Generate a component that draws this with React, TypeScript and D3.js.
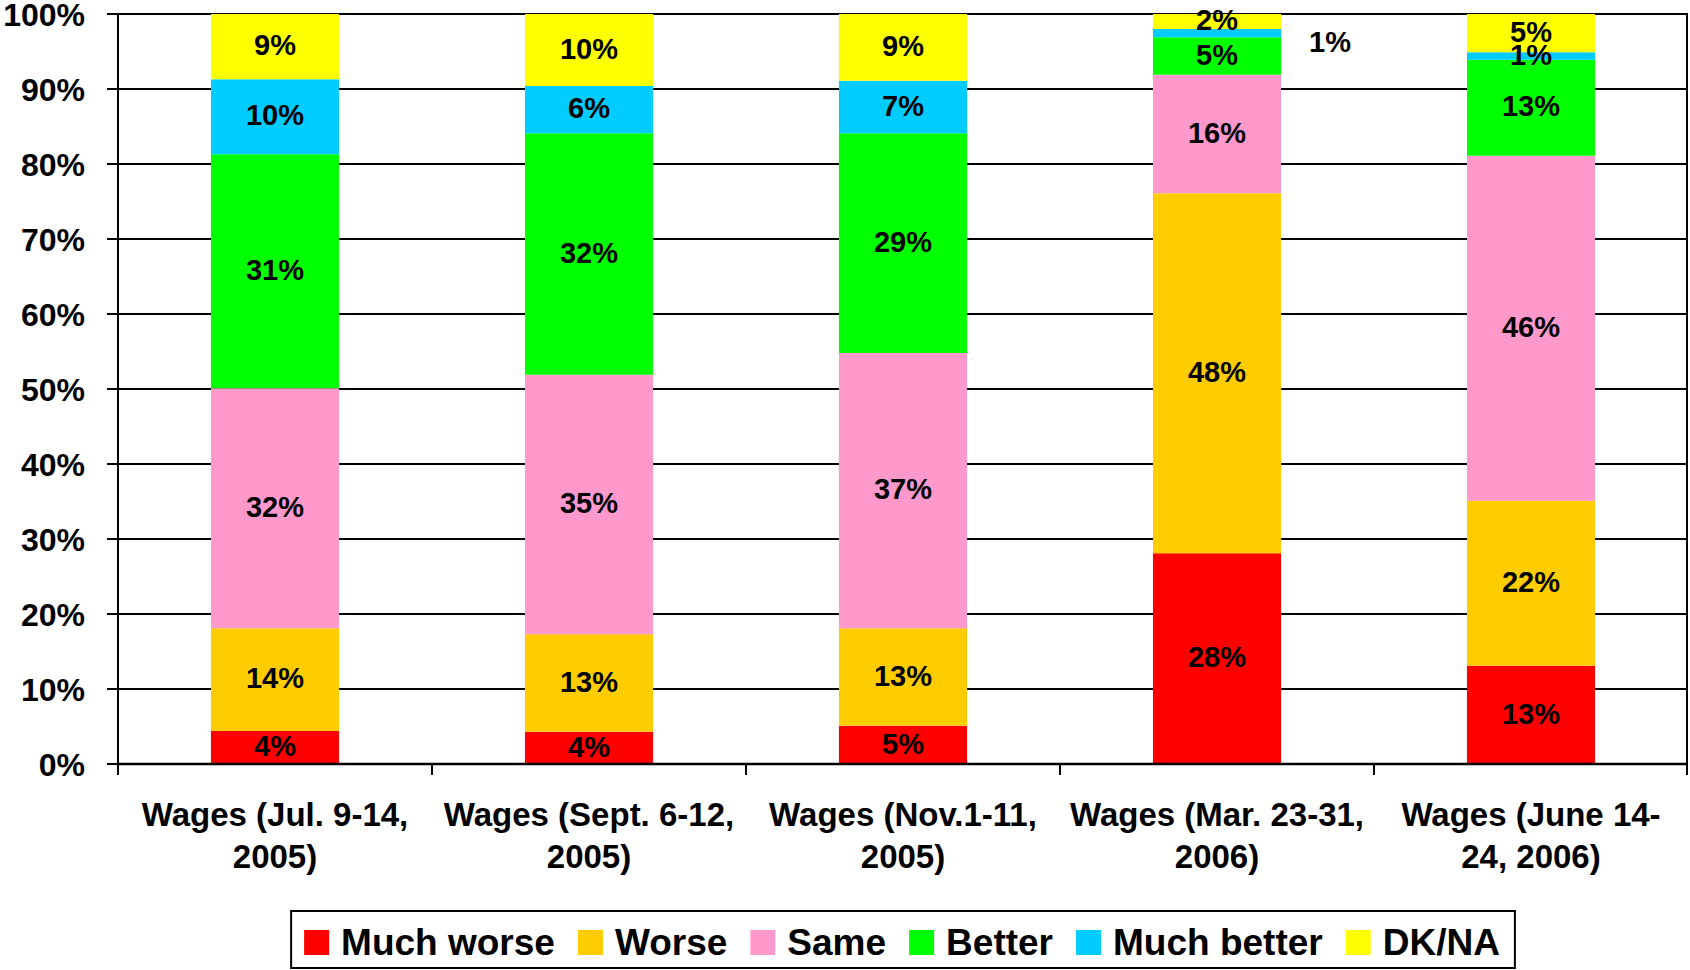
import React, { useEffect, useRef } from 'react';
import * as d3 from 'd3';

const categoryLines: string[][] = [
  ['Wages (Jul. 9-14,', '2005)'],
  ['Wages (Sept. 6-12,', '2005)'],
  ['Wages (Nov.1-11,', '2005)'],
  ['Wages (Mar. 23-31,', '2006)'],
  ['Wages (June 14-', '24, 2006)'],
];
const seriesNames = ['Much worse', 'Worse', 'Same', 'Better', 'Much better', 'DK/NA'];
const seriesColors = ['#FF0000', '#FFCC00', '#FF99CC', '#00FF00', '#00CCFF', '#FFFF00'];
const muchWorse = [4.4, 4.3, 5.1, 28.1, 13.1];
const worse = [13.7, 13.0, 13.0, 48.0, 22.0];
const same = [32.0, 34.6, 36.7, 15.8, 46.0];
const better = [31.2, 32.2, 29.3, 5.0, 12.8];
const muchBetter = [10.0, 6.3, 7.0, 1.1, 1.0];
const dkna = [8.7, 9.6, 8.9, 2.0, 5.1];
const yTicks = [0, 10, 20, 30, 40, 50, 60, 70, 80, 90, 100];
// labels placed outside the bar (category index, series index)
const outsideLabels = [[3, 4]];

const FONT = '"Liberation Sans", Arial, Helvetica, sans-serif';

export default function App() {
  const ref = useRef<SVGSVGElement>(null);

  useEffect(() => {
    const svg = d3.select(ref.current);
    svg.selectAll('*').remove();

    const W = 1690, H = 970;
    const left = 118, right = 1688, top = 14, bottom = 764;

    const seriesValues = [muchWorse, worse, same, better, muchBetter, dkna];
    const rows = categoryLines.map((c, i) => {
      const r: any = { idx: i };
      seriesNames.forEach((s, j) => (r[s] = seriesValues[j][i]));
      return r;
    });
    const stack = d3.stack<any>().keys(seriesNames)(rows);

    const x = d3.scaleBand<number>()
      .domain(categoryLines.map((_, i) => i))
      .range([left, right])
      .paddingInner(0.592)
      .paddingOuter(0.296);
    const y = d3.scaleLinear().domain([0, 100]).range([bottom, top]);

    svg.append('rect').attr('width', W).attr('height', H).attr('fill', '#fff');

    // gridlines
    svg.append('g').selectAll('line').data(yTicks).join('line')
      .attr('x1', left).attr('x2', right)
      .attr('y1', d => y(d)).attr('y2', d => y(d))
      .attr('stroke', '#000').attr('stroke-width', 2);

    // bars
    const g = svg.append('g');
    stack.forEach((layer, j) => {
      g.append('g').selectAll('rect').data(layer).join('rect')
        .attr('x', (_, i) => x(i)!)
        .attr('width', x.bandwidth())
        .attr('y', d => y(d[1]))
        .attr('height', d => y(d[0]) - y(d[1]))
        .attr('fill', seriesColors[j]);
    });

    // axes lines
    svg.append('line').attr('x1', left).attr('x2', left).attr('y1', top).attr('y2', bottom + 11)
      .attr('stroke', '#000').attr('stroke-width', 2);
    svg.append('line').attr('x1', right - 1).attr('x2', right - 1).attr('y1', top).attr('y2', bottom + 11)
      .attr('stroke', '#000').attr('stroke-width', 2);
    svg.append('line').attr('x1', left).attr('x2', right).attr('y1', bottom).attr('y2', bottom)
      .attr('stroke', '#000').attr('stroke-width', 2.5);

    // y ticks
    svg.append('g').selectAll('line').data(yTicks).join('line')
      .attr('x1', left - 11).attr('x2', left)
      .attr('y1', d => y(d)).attr('y2', d => y(d))
      .attr('stroke', '#000').attr('stroke-width', 2);
    svg.append('g').selectAll('text').data(yTicks).join('text')
      .attr('x', left - 33).attr('y', d => y(d) + 11.5)
      .attr('text-anchor', 'end')
      .attr('font-family', FONT).attr('font-weight', 'bold').attr('font-size', 32)
      .text(d => `${d}%`);

    // x ticks at band boundaries
    const step = x.step();
    const bounds = d3.range(categoryLines.length + 1).map(i => left + i * step);
    svg.append('g').selectAll('line').data(bounds.slice(1, -1)).join('line')
      .attr('x1', d => d).attr('x2', d => d)
      .attr('y1', bottom).attr('y2', bottom + 11)
      .attr('stroke', '#000').attr('stroke-width', 2);

    // category labels
    const cg = svg.append('g');
    categoryLines.forEach((lines, i) => {
      const cx = x(i)! + x.bandwidth() / 2;
      lines.forEach((ln, k) => {
        cg.append('text')
          .attr('x', cx).attr('y', 826 + k * 42)
          .attr('text-anchor', 'middle')
          .attr('font-family', FONT).attr('font-weight', 'bold').attr('font-size', 33)
          .text(ln);
      });
    });

    // data labels
    const lg = svg.append('g');
    const fs = 29;
    stack.forEach((layer, j) => {
      layer.forEach((d, i) => {
        const v = seriesValues[j][i];
        const outside = outsideLabels.some(o => o[0] === i && o[1] === j);
        const cy = (y(d[0]) + y(d[1])) / 2;
        const cx = outside ? x(i)! + x.bandwidth() + 49 : x(i)! + x.bandwidth() / 2;
        lg.append('text')
          .attr('x', cx)
          .attr('y', cy + (outside ? 10 : 0) + fs * 0.3)
          .attr('text-anchor', 'middle')
          .attr('font-family', FONT).attr('font-weight', 'bold').attr('font-size', fs)
          .text(`${Math.round(v)}%`);
      });
    });

    // legend
    const legG = svg.append('g');
    const lfs = 37;
    const sw = 25, gapSwText = 12, gapItem = 23, padL = 13, padR = 15;
    const texts = seriesNames.map(n =>
      legG.append('text')
        .attr('font-family', FONT).attr('font-weight', 'bold').attr('font-size', lfs)
        .attr('y', 955)
        .text(n)
    );
    const widths = texts.map(t => (t.node() as SVGTextElement).getComputedTextLength());
    const total = padL + padR + d3.sum(widths) + seriesNames.length * (sw + gapSwText) + (seriesNames.length - 1) * gapItem;
    const boxX = (left + right) / 2 - total / 2;
    legG.insert('rect', 'text')
      .attr('x', boxX).attr('y', 911).attr('width', total).attr('height', 57)
      .attr('fill', '#fff').attr('stroke', '#000').attr('stroke-width', 2);
    let cx = boxX + padL;
    seriesNames.forEach((n, j) => {
      legG.append('rect').attr('x', cx).attr('y', 930).attr('width', sw).attr('height', sw)
        .attr('fill', seriesColors[j]);
      texts[j].attr('x', cx + sw + gapSwText);
      cx += sw + gapSwText + widths[j] + gapItem;
    });
  }, []);

  return (
    <svg
      ref={ref}
      width={1690}
      height={970}
      style={{ position: 'absolute', left: 0, top: 0, display: 'block' }}
    />
  );
}
